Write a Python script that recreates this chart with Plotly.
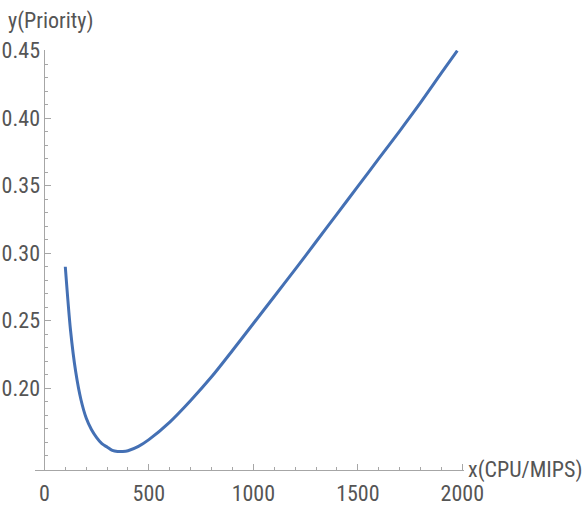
import plotly.graph_objects as go

# Data
cpu_mips = [100, 125, 150, 175, 200, 225, 250, 275, 300, 325, 350, 375, 400,
            450, 500, 600, 700, 800, 900, 1000, 1100, 1200, 1300, 1400, 1500,
            1600, 1700, 1800, 1900, 1976]
priority = [0.290, 0.243, 0.212, 0.1915, 0.178, 0.1695, 0.1635, 0.159,
            0.1565, 0.154, 0.1532, 0.1532, 0.1538, 0.157, 0.162, 0.175, 0.191,
            0.2085, 0.228, 0.248, 0.268, 0.288, 0.3085, 0.329, 0.3495, 0.370,
            0.3905, 0.4115, 0.4335, 0.450]

x_ticks = [0, 500, 1000, 1500, 2000]
x_minor = [v for v in range(100, 2001, 100) if v % 500 != 0]
y_ticks = [0.20, 0.25, 0.30, 0.35, 0.40, 0.45]
y_minor = [0.15, 0.16, 0.17, 0.18, 0.19, 0.21, 0.22, 0.23, 0.24, 0.26, 0.27,
           0.28, 0.29, 0.31, 0.32, 0.33, 0.34, 0.36, 0.37, 0.38, 0.39, 0.41,
           0.42, 0.43, 0.44]

X_RANGE = [-45, 2008]
Y_RANGE = [0.1395, 0.4505]

FONT = "Roboto Condensed, Liberation Sans Narrow, Arial Narrow, Roboto, sans-serif"
AXIS_COLOR = "#a6a6a6"
TEXT_COLOR = "#555555"
FS = 22

fig = go.Figure()
fig.add_trace(go.Scatter(
    x=cpu_mips, y=priority, mode="lines",
    line=dict(color="#4470b4", width=3, shape="spline", smoothing=0.8),
    cliponaxis=False, showlegend=False,
))

fig.update_layout(
    width=583, height=506,
    margin=dict(l=35, r=119, t=50, b=36),
    paper_bgcolor="white", plot_bgcolor="white",
    font=dict(family=FONT, color=TEXT_COLOR, size=FS),
    xaxis=dict(
        range=X_RANGE, showgrid=False, zeroline=False, automargin=False,
        showline=True, linecolor=AXIS_COLOR, linewidth=1,
        tickmode="array", tickvals=x_ticks, ticktext=[str(v) for v in x_ticks],
        ticks="inside", ticklen=6, tickcolor=AXIS_COLOR, tickwidth=1,
        ticklabelstandoff=4,
        tickfont=dict(family=FONT, size=FS, color=TEXT_COLOR),
        minor=dict(tickmode="array", tickvals=x_minor, ticks="inside",
                   ticklen=3, tickcolor=AXIS_COLOR, tickwidth=1, showgrid=False),
    ),
    yaxis=dict(
        range=Y_RANGE, showgrid=False, zeroline=False, automargin=False,
        anchor="free", position=45 / 2053,
        showline=True, linecolor=AXIS_COLOR, linewidth=1,
        tickmode="array", tickvals=y_ticks, ticktext=[f"{v:.2f}" for v in y_ticks],
        ticks="inside", ticklen=6, tickcolor=AXIS_COLOR, tickwidth=1,
        tickfont=dict(family=FONT, size=FS, color=TEXT_COLOR),
        minor=dict(tickmode="array", tickvals=y_minor, ticks="inside",
                   ticklen=3, tickcolor=AXIS_COLOR, tickwidth=1, showgrid=False),
    ),
    annotations=[
        dict(text="x(CPU/MIPS)", xref="paper", yref="paper", x=1.0, y=0,
             xanchor="left", yanchor="middle", xshift=2, showarrow=False,
             font=dict(family=FONT, size=FS, color=TEXT_COLOR)),
        dict(text="y(Priority)", xref="paper", yref="paper", x=0, y=1,
             xanchor="left", yanchor="middle", xshift=-29, yshift=29, showarrow=False,
             font=dict(family=FONT, size=FS, color=TEXT_COLOR)),
    ],
)

fig.write_html("out.html")
